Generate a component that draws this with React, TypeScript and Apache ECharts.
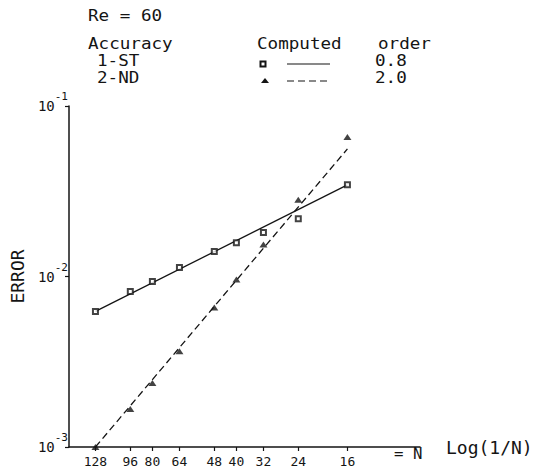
import React, { useEffect, useRef } from 'react';
import * as echarts from 'echarts';

// Mesh sizes N (abscissa is Log(1/N))
const meshN = [128, 96, 80, 64, 48, 40, 32, 24, 16];
// Computed errors, 1-ST order scheme (squares)
const firstOrderError = [6.24e-3, 8.17e-3, 9.35e-3, 1.13e-2, 1.4e-2, 1.58e-2, 1.81e-2, 2.18e-2, 3.45e-2];
// Computed errors, 2-ND order scheme (triangles)
const secondOrderError = [1.0e-3, 1.67e-3, 2.37e-3, 3.64e-3, 6.59e-3, 9.6e-3, 1.54e-2, 2.82e-2, 6.59e-2];
// Fitted lines (order 0.8 and 2.0), end points
const fitN = [128, 16];
const firstOrderFit = [6.24e-3, 3.45e-2];
const secondOrderFit = [1.0e-3, 5.6e-2];
// Tick labels
const xTickN = [128, 96, 80, 64, 48, 40, 32, 24, 16];
const yTickExponents = [-3, -2, -1];

const FONT = '"DejaVu Sans Mono", monospace';
const INK = '#141414';

const toX = (n: number) => Math.log10(1 / n);
const toY = (e: number) => Math.log10(e);
const pts = (ns: number[], es: number[]) => ns.map((n, i) => [toX(n), toY(es[i])]);

export default function App() {
  const ref = useRef<HTMLDivElement>(null);
  useEffect(() => {
    if (!ref.current) return;
    const chart = echarts.init(ref.current, undefined, { renderer: 'svg' });
    const xTicks = xTickN.map(toX);
    const txt = (text: string, x: number, y: number, size: number, sx = 1.1) => ({
      type: 'text',
      x,
      y,
      scaleX: sx,
      style: { text, fontFamily: FONT, fontSize: size, fill: INK, align: 'left', verticalAlign: 'middle' },
    });
    chart.setOption({
      animation: false,
      backgroundColor: '#ffffff',
      grid: { left: 62, top: 106, width: 358, height: 341, containLabel: false },
      xAxis: {
        type: 'value',
        min: -2.202,
        max: -0.944,
        axisLine: { lineStyle: { color: INK, width: 1.5 } },
        axisTick: { customValues: xTicks, length: 4, lineStyle: { color: INK, width: 1.2 } },
        axisLabel: {
          customValues: xTicks,
          formatter: (v: number) => String(Math.round(Math.pow(10, -v))),
          fontFamily: FONT,
          fontSize: 13,
          color: INK,
          margin: 8,
        },
        splitLine: { show: false },
        name: 'Log(1/N)',
        nameLocation: 'end',
        nameGap: 26,
        nameTextStyle: { fontFamily: FONT, fontSize: 18, color: INK, align: 'left', verticalAlign: 'middle' },
      },
      yAxis: {
        type: 'value',
        min: yTickExponents[0],
        max: yTickExponents[yTickExponents.length - 1],
        interval: 1,
        axisLine: { show: true, lineStyle: { color: INK, width: 1.5 } },
        axisTick: { show: true, length: 4, lineStyle: { color: INK, width: 1.2 } },
        axisLabel: {
          formatter: (v: number) => `{b|10}{s|${v}}`,
          margin: 1,
          rich: {
            b: { fontFamily: FONT, fontSize: 14, color: INK, lineHeight: 30 },
            s: { fontFamily: FONT, fontSize: 11, color: INK, lineHeight: 12, verticalAlign: 'top' },
          },
        },
        splitLine: { show: false },
        name: 'ERROR',
        nameLocation: 'middle',
        nameRotate: 90,
        nameGap: 43,
        nameTextStyle: { fontFamily: FONT, fontSize: 18, color: INK },
      },
      series: [
        {
          name: '1-ST fit',
          type: 'line',
          data: pts(fitN, firstOrderFit),
          symbol: 'none',
          lineStyle: { color: INK, width: 1.3 },
          z: 2,
        },
        {
          name: '2-ND fit',
          type: 'line',
          data: pts(fitN, secondOrderFit),
          symbol: 'none',
          lineStyle: { color: INK, width: 1.3, type: [7, 4] },
          z: 2,
        },
        {
          name: '1-ST',
          type: 'scatter',
          data: pts(meshN, firstOrderError),
          symbol: 'rect',
          symbolSize: 5,
          itemStyle: { color: '#ffffff', borderColor: INK, borderWidth: 2 },
          z: 3,
        },
        {
          name: '2-ND',
          type: 'scatter',
          data: pts(meshN, secondOrderError),
          symbol: 'triangle',
          symbolSize: [8, 6],
          itemStyle: { color: INK },
          z: 3,
        },
      ],
      graphic: [
        txt('Re = 60', 88, 15, 16),
        txt('Accuracy', 88, 43, 16),
        txt('1-ST', 97, 60, 16),
        txt('2-ND', 97, 77, 16),
        txt('Computed', 257, 43, 16),
        txt('order', 378, 43, 16),
        txt('0.8', 375, 60, 16),
        txt('2.0', 375, 77, 16),
        txt('= N', 394, 454, 15, 1.05),
        {
          type: 'rect',
          shape: { x: 260.5, y: 61.5, width: 5, height: 5 },
          style: { fill: '#fff', stroke: INK, lineWidth: 2 },
        },
        {
          type: 'line',
          shape: { x1: 287, y1: 64, x2: 330, y2: 64 },
          style: { stroke: INK, lineWidth: 1.2 },
        },
        {
          type: 'polygon',
          shape: { points: [[261, 83], [265, 78], [269, 83]] },
          style: { fill: INK },
        },
        {
          type: 'line',
          shape: { x1: 287, y1: 81, x2: 330, y2: 81 },
          style: { stroke: INK, lineWidth: 1.2, lineDash: [7, 4] },
        },
      ],
    });
    return () => chart.dispose();
  }, []);
  return (
    <div
      ref={ref}
      style={{ position: 'fixed', left: 0, top: 0, width: 536, height: 471, background: '#fff' }}
    />
  );
}
